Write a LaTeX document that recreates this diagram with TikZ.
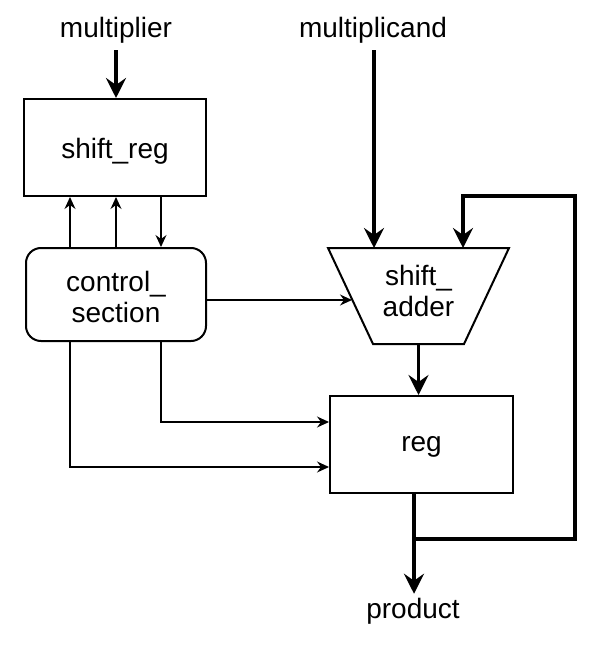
\documentclass[tikz,border=0pt]{standalone}
\usepackage{fontspec}
\setmainfont{Liberation Sans}
\usetikzlibrary{arrows.meta}
\begin{document}
\begin{tikzpicture}[x=1pt,y=-1pt,
  box/.style={draw,line width=2pt,inner sep=0pt},
  lbl/.style={font=\fontsize{28}{31}\selectfont,align=center,inner sep=0pt},
  bigarrow/.style={line width=3.5pt,-{Stealth[length=20pt,width=20pt,inset=7pt]}},
  smallarrow/.style={line width=1.2pt,-{Stealth[length=12pt,width=11pt,inset=4pt]}},
  boldline/.style={line width=3.5pt}]
\useasboundingbox (0,0) rectangle (610,652);

% labels
\node[lbl] (mlr) at (116,30) {multiplier};
\node[lbl] (mcd) at (373,30) {multiplicand};
\node[lbl] (prod) at (413,611) {product};

% blocks
\node[box,minimum width=182pt,minimum height=97pt] (sr) at (115,147.5) {};
\node[lbl] (srtext) at (115,151) {shift\_reg};
\node[box,rounded corners=15pt,minimum width=180pt,minimum height=93pt] (ctrl) at (116,294.5) {};
\node[lbl] (ctrltext) at (116,297) {control\_\\section};
\node[box,minimum width=183pt,minimum height=97pt] (reg) at (421.5,444.5) {};
\node[lbl] (regtext) at (421.5,447) {reg};

% shift_adder trapezoid
\coordinate (tl) at (328,248);
\coordinate (tr) at (509,248);
\coordinate (br) at (464,344);
\coordinate (bl) at (373,344);
\draw[line width=2pt,line join=miter] (tl) -- (tr) -- (br) -- (bl) -- cycle;
\node[lbl] (adder) at (418.5,291) {shift\_\\adder};
\coordinate (lmid) at (352,300);
\coordinate (bm) at (418.5,344);

% thick data paths
\draw[bigarrow,shorten <=7pt] (mlr.south) -- (mlr.south |- sr.north);
\draw[bigarrow,shorten <=7pt] ([xshift=1pt]mcd.south) -- ([xshift=1pt]mcd.south |- tl);
\draw[bigarrow] (bm) -- (bm |- reg.north);
\coordinate (junc) at (414,539);
\coordinate (fbR1) at (575,539);
\coordinate (fbR2) at (575,196);
\coordinate (fbT) at (463,196);
\draw[bigarrow,shorten >=4pt] ([xshift=-7.5pt]reg.south) -- (junc |- prod.north);
\draw[bigarrow,line join=miter] (junc) -- (fbR1) -- (fbR2) -- (fbT) -- (fbT |- tr);

% control paths
\draw[smallarrow] ([xshift=-46pt]ctrl.north) -- ([xshift=-46pt]ctrl.north |- sr.south);
\draw[smallarrow] (ctrl.north) -- (ctrl.north |- sr.south);
\draw[smallarrow] ([xshift=45pt]ctrl.north |- sr.south) -- ([xshift=45pt]ctrl.north);
\draw[smallarrow] (ctrl.east |- lmid) -- (lmid);
\draw[smallarrow] ([xshift=45pt]ctrl.south) |- ([yshift=22.5pt]reg.west);
\draw[smallarrow] ([xshift=-46pt]ctrl.south) |- ([yshift=-22.5pt]reg.west);
\end{tikzpicture}
\end{document}
